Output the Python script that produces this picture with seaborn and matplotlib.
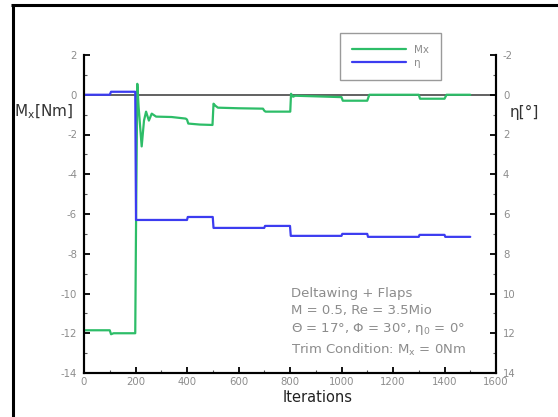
import matplotlib
matplotlib.use("Agg")
import matplotlib.pyplot as plt
from matplotlib.lines import Line2D
from matplotlib.ticker import MultipleLocator
import pandas as pd
import seaborn as sns

# Rolling moment Mx [Nm] over the trim iterations
mx_iter = [0, 100, 105, 115, 199, 202, 207, 212, 224, 233, 241, 252, 263, 280, 340,
           395, 400, 405, 450, 499, 503, 510, 520, 600, 695, 700, 705, 795, 801,
           804, 812, 820, 900, 1000, 1005, 1100, 1108, 1300, 1305, 1400, 1408, 1500]
mx_val = [-11.85, -11.85, -12.05, -12.0, -12.0, -6.7, 0.55, -0.6, -2.6, -1.3, -0.85, -1.3,
          -0.95, -1.1, -1.12, -1.2, -1.25, -1.45, -1.5, -1.52, -0.45, -0.55, -0.65,
          -0.68, -0.7, -0.8, -0.85, -0.85, -0.85, 0.05, -0.1, -0.05, -0.08, -0.12,
          -0.3, -0.3, 0.0, 0.0, -0.2, -0.2, 0.0, 0.0]

# Flap deflection eta [deg]
eta_iter = [0, 100, 105, 199, 202, 400, 403, 500, 503, 700, 703, 800, 803,
            1000, 1003, 1100, 1103, 1300, 1303, 1400, 1403, 1500]
eta_val = [0.0, 0.0, -0.15, -0.15, 6.3, 6.3, 6.15, 6.15, 6.7, 6.7, 6.6, 6.6, 7.1,
           7.1, 7.0, 7.0, 7.15, 7.15, 7.05, 7.05, 7.15, 7.15]

series_labels = ["Mx", "η"]
case_text = ["Deltawing + Flaps",
             "M = 0.5, Re = 3.5Mio",
             "Θ = 17°, Φ = 30°, η$_\\mathregular{0}$ = 0°",
             "Trim Condition: M$_\\mathregular{x}$ = 0Nm"]

GREEN = "#2dbd68"
BLUE = "#3c3cf0"
TICK_GRAY = "#8c8c8c"

sns.set_style("white")
plt.rcParams["font.family"] = ["DejaVu Sans"]
plt.rcParams["axes.unicode_minus"] = False

fig = plt.figure(figsize=(5.58, 4.17), dpi=100)
ax = fig.add_axes([84 / 558, 44 / 417, 412 / 558, 318 / 417])
ax2 = ax.twinx()

mx_df = pd.DataFrame({"iter": mx_iter, "val": mx_val})
eta_df = pd.DataFrame({"iter": eta_iter, "val": eta_val})

ax.axhline(0, color="#555555", lw=1.3, zorder=1)
sns.lineplot(data=mx_df, x="iter", y="val", ax=ax, sort=False, estimator=None,
             color=GREEN, lw=1.6, zorder=3)
sns.lineplot(data=eta_df, x="iter", y="val", ax=ax2, sort=False, estimator=None,
             color=BLUE, lw=1.6, zorder=2)

ax.set_xlim(0, 1600)
ax.set_ylim(-14, 2)
ax2.set_ylim(14, -2)

ax.xaxis.set_major_locator(MultipleLocator(200))
ax.xaxis.set_minor_locator(MultipleLocator(100))
ax.yaxis.set_major_locator(MultipleLocator(2))
ax.yaxis.set_minor_locator(MultipleLocator(1))
ax2.yaxis.set_major_locator(MultipleLocator(2))
ax2.yaxis.set_minor_locator(MultipleLocator(1))

for a in (ax, ax2):
    for side in ("left", "bottom", "right"):
        a.spines[side].set_visible(True)
        a.spines[side].set_color("black")
        a.spines[side].set_linewidth(1.5)
    a.spines["top"].set_visible(False)
    a.patch.set_visible(False)

ax.tick_params(axis="both", which="major", direction="in", length=4.5, width=1.3,
               color="black", labelcolor=TICK_GRAY, labelsize=7.3)
ax.tick_params(axis="both", which="minor", direction="in", length=2.5, width=0.8,
               color="#555555")
ax.tick_params(axis="y", which="both", left=True, right=False, pad=5)
ax.tick_params(axis="x", which="both", bottom=True, top=False, pad=3)
ax2.tick_params(axis="y", which="major", direction="in", length=4.5, width=1.3,
                color="black", labelcolor=TICK_GRAY, labelsize=7.3, pad=5,
                right=True, left=False)
ax2.tick_params(axis="y", which="minor", direction="in", length=2.5, width=0.8,
                color="#555555", right=True, left=False)

ax.set_xlabel("Iterations", fontsize=10.5, color="#222222")
ax.xaxis.set_label_coords(0.568, -0.055)
ax.xaxis.label.set_va("top")

ax.set_ylabel(r"$\mathregular{M_x[Nm]}$", fontsize=11, color="#333333",
              rotation=0, ha="right", va="center")
ax.yaxis.set_label_coords(-0.027, 0.82)
ax2.set_ylabel("η[°]", fontsize=11, color="#333333", rotation=0,
               ha="left", va="center")
ax2.yaxis.set_label_coords(1.034, 0.818)

ax.text(0.502, 0.272, "\n".join(case_text), transform=ax.transAxes,
        fontsize=9.5, color=TICK_GRAY, ha="left", va="top", linespacing=1.4)

handles = [Line2D([], [], color=GREEN, lw=1.6), Line2D([], [], color=BLUE, lw=1.6)]
leg = fig.legend(handles, series_labels, loc="upper left",
                 bbox_to_anchor=(340 / 558, 1 - 33 / 417), borderaxespad=0,
                 fontsize=7.5, handlelength=5.2, handletextpad=0.8,
                 borderpad=1.15, labelspacing=0.3, fancybox=False,
                 framealpha=1, edgecolor="#9a9a9a")
leg.get_frame().set_linewidth(1.0)
for t in leg.get_texts():
    t.set_color(TICK_GRAY)

# page frame: top and left edges of the surrounding box
x0, y0 = 12.5 / 558, 1 - 5 / 417
fig.add_artist(Line2D([x0 - 1.1 / 558, 1.0], [y0, y0], transform=fig.transFigure,
                      color="black", lw=2.2, solid_capstyle="butt"))
fig.add_artist(Line2D([x0, x0], [0.0, y0 + 1.1 / 417], transform=fig.transFigure,
                      color="black", lw=2.2, solid_capstyle="butt"))

fig.savefig("out.png", dpi=100)
